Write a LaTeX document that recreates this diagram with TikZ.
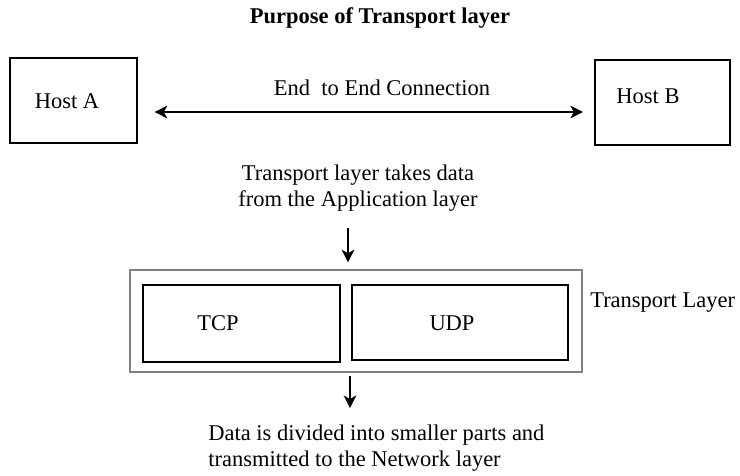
\documentclass[tikz,border=0pt]{standalone}
\usepackage{fontspec}
\setmainfont{Liberation Serif}
\usetikzlibrary{arrows.meta,positioning}

\tikzset{
  box/.style={draw, line width=1pt, inner sep=0pt},
  layerbox/.style={draw=gray, line width=1.8pt, inner sep=0pt},
  tip/.style={Stealth[length=9pt,width=9pt,inset=2.5pt]},
  flow/.style={-{Stealth[length=9pt,width=9pt,inset=2.5pt]}, line width=1.4pt},
}

\begin{document}
\begin{tikzpicture}[x=0.025cm,y=-0.025cm,font=\fontsize{16}{18}\selectfont]
    \useasboundingbox (0,0) rectangle (740,475);

    \node[font=\fontsize{16}{18}\selectfont\bfseries] (title) at (380,18) {Purpose of Transport layer};

    % the two hosts
    \node[box, minimum width=3.175cm, minimum height=2.125cm] (hostA) at (73.5,100.5) {};
    \node (hostAtxt) at (67,101) {Host A};
    \node[box, minimum width=3.375cm, minimum height=2.125cm] (hostB) at (662.5,102.5) {};
    \node (hostBtxt) at (648,96) {Host B};

    \node (conn) at (382,88) {End \ to End Connection};
    \coordinate (connA) at (137,112);
    \coordinate (connB) at (595,112);
    \draw[{Stealth[length=9pt,width=9pt,inset=2.5pt]}-{Stealth[length=9pt,width=9pt,inset=2.5pt]},
          line width=1.4pt, shorten <=12.5pt, shorten >=8.5pt] (connA) -- (connB);

    \node[align=center] (takes) at (358,188) {Transport layer takes data\\from the Application layer};

    % transport layer with its two protocols
    \node[layerbox, minimum width=11.3cm, minimum height=2.55cm] (layer) at (356,321) {};
    \node[box, minimum width=4.925cm, minimum height=1.925cm] (tcp) at (241.5,323.5) {};
    \node (tcptxt) at (218,323) {TCP};
    \node[box, minimum width=5.4cm, minimum height=1.875cm] (udp) at (460,322.5) {};
    \node (udptxt) at (452,323) {UDP};
    \node[anchor=west, inner sep=0pt] (layertxt) at (590,303) {Transport Layer};

    \coordinate (in) at (348,228);
    \draw[flow, shorten >=4.5pt] (in) -- (in |- layer.north);

    \node[align=left, anchor=north west, inner sep=0pt] (divided) at (208,425)
        {Data is divided into smaller parts and\\transmitted to the Network layer};
    \coordinate (out) at (350,376);
    \draw[flow, shorten >=12pt] (out) -- (out |- divided.north);
\end{tikzpicture}
\end{document}
